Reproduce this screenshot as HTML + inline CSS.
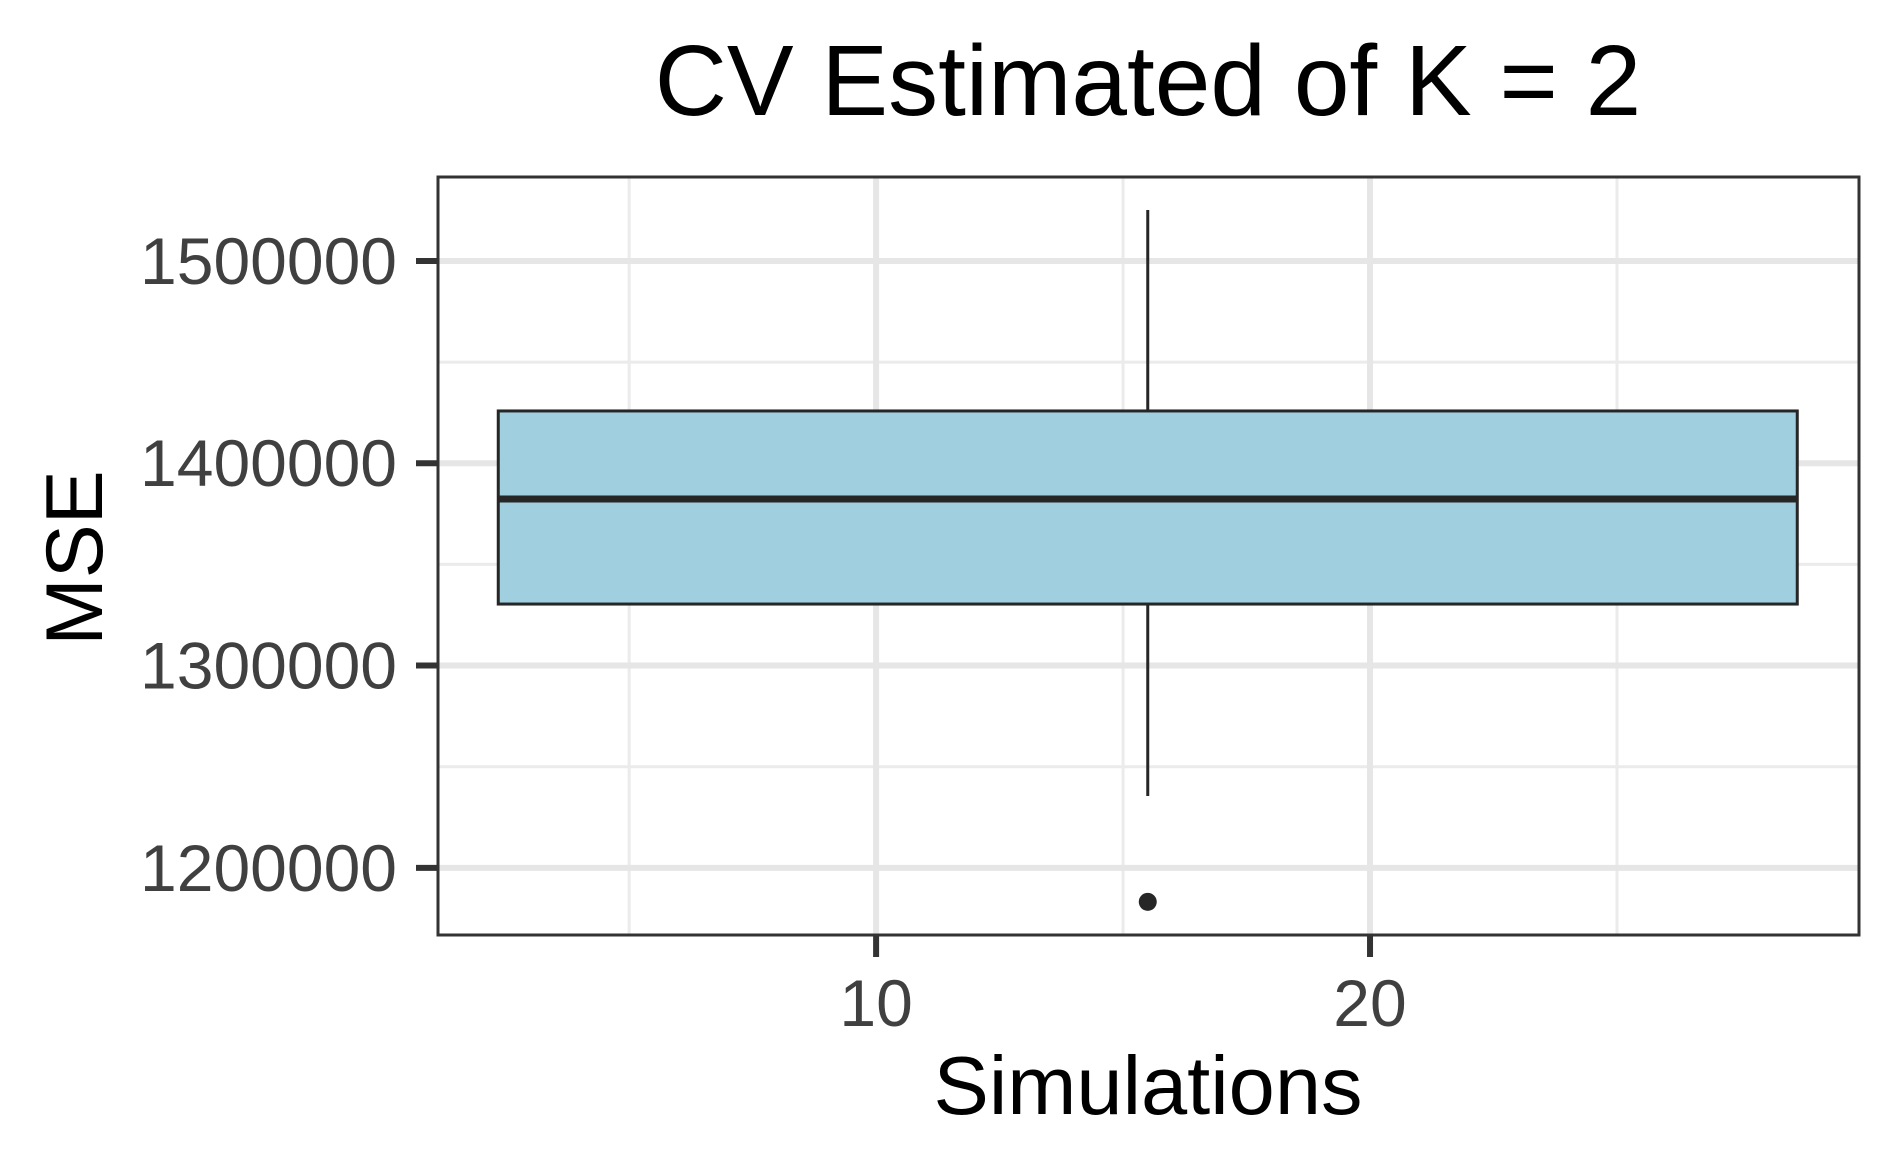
<!DOCTYPE html>
<html><head><meta charset="utf-8"><style>
html,body{margin:0;padding:0;background:#fff;}
svg{display:block;font-family:"Liberation Sans",Arial,sans-serif;}
</style></head><body>
<svg id="chart" width="1903" height="1176" viewBox="0 0 1903 1176" xmlns="http://www.w3.org/2000/svg">
<rect width="1903" height="1176" fill="#fff"/>
<text x="1148" y="115" text-anchor="middle" font-size="100" fill="#000">CV Estimated of K = 2</text>
<g id="grid"></g>
<g id="marks"></g>
<rect x="438" y="177" width="1421" height="758" fill="none" stroke="#333" stroke-width="3"/>
<g id="axes"></g>
<text x="1148" y="1114" text-anchor="middle" font-size="83" fill="#000">Simulations</text>
<text transform="translate(102,558) rotate(-90)" text-anchor="middle" font-size="81" fill="#000">MSE</text>
</svg>
<script>
const xTicks = [10, 20];
const xMinor = [5, 15, 25];
const yTicks = [1200000, 1300000, 1400000, 1500000];
const yMinor = [1250000, 1350000, 1450000];
const yTickLabels = ["1200000", "1300000", "1400000", "1500000"];
const boxX = [15.5];
const boxWidth = [26.3];
const boxStats = [1235500, 1330400, 1382300, 1425850, 1525200]; // lower whisker, q1, median, q3, upper whisker
const outliers = [1183200];

const L = 438, R = 1859, T = 177, B = 935;
const xMin = 1.13, xMax = 29.9, yMin = 1166800, yMax = 1541500;
const xs = v => L + (v - xMin) / (xMax - xMin) * (R - L);
const ys = v => B - (v - yMin) / (yMax - yMin) * (B - T);
const NS = "http://www.w3.org/2000/svg";
function mk(tag, attrs, parent) {
  const e = document.createElementNS(NS, tag);
  for (const k in attrs) e.setAttribute(k, attrs[k]);
  parent.appendChild(e);
  return e;
}
const grid = document.getElementById('grid');
const marks = document.getElementById('marks');
const axes = document.getElementById('axes');

yMinor.forEach(v => {
  const l = mk('line', {x1: L, x2: R, y1: ys(v), y2: ys(v), stroke: '#ebebeb', 'stroke-width': 3}, grid);
  
  
});
xMinor.forEach(v => {
  const l = mk('line', {x1: xs(v), x2: xs(v), y1: T, y2: B, stroke: '#ebebeb', 'stroke-width': 3}, grid);
  
  
});
yTicks.forEach((v, i) => {
  const l = mk('line', {x1: L, x2: R, y1: ys(v), y2: ys(v), stroke: '#e6e6e6', 'stroke-width': 6}, grid);
  
  
  const t = mk('line', {x1: 416, x2: L, y1: ys(v), y2: ys(v), stroke: '#333', 'stroke-width': 6}, axes);
  
  
  const tx = mk('text', {x: 397, y: ys(v) + 23, 'text-anchor': 'end', 'font-size': 66, fill: '#404040'}, axes);
  tx.textContent = yTickLabels[i];
  
  
});
xTicks.forEach(v => {
  const l = mk('line', {x1: xs(v), x2: xs(v), y1: T, y2: B, stroke: '#e6e6e6', 'stroke-width': 6}, grid);
  
  
  const t = mk('line', {x1: xs(v), x2: xs(v), y1: B, y2: 957, stroke: '#333', 'stroke-width': 6}, axes);
  
  
  const tx = mk('text', {x: xs(v), y: 1026, 'text-anchor': 'middle', 'font-size': 66, fill: '#404040'}, axes);
  tx.textContent = String(v);
  
  
});

boxX.forEach((cx, i) => {
  const [lo, q1, med, q3, hi] = boxStats;
  const x0 = xs(cx - boxWidth[i] / 2), x1 = xs(cx + boxWidth[i] / 2), xc = xs(cx);
  const w1 = mk('line', {x1: xc, x2: xc, y1: ys(hi), y2: ys(q3), stroke: '#262626', 'stroke-width': 3}, marks);
  
  
  const w2 = mk('line', {x1: xc, x2: xc, y1: ys(q1), y2: ys(lo), stroke: '#262626', 'stroke-width': 3}, marks);
  
  
  const box = mk('rect', {x: x0, y: ys(q3), width: x1 - x0, height: ys(q1) - ys(q3), fill: '#a0cfe0', stroke: '#262626', 'stroke-width': 3}, marks);
  
  
  const m = mk('line', {x1: x0, x2: x1, y1: ys(med), y2: ys(med), stroke: '#262626', 'stroke-width': 7}, marks);
  
  
  outliers.forEach(o => {
    const c = mk('circle', {cx: xc, cy: ys(o), r: 9, fill: '#262626'}, marks);
    
    
  });
});
</script>
</body></html>
